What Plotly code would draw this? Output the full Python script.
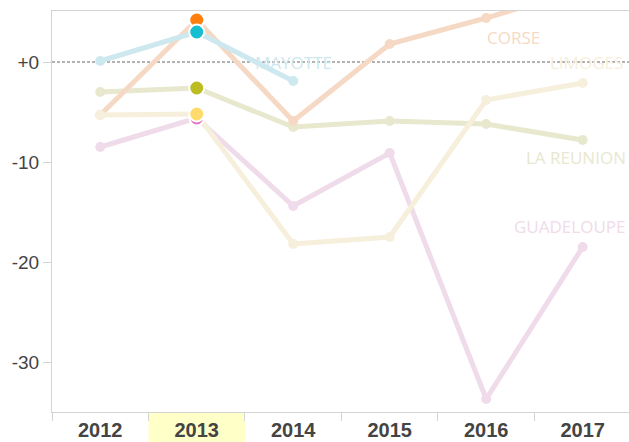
import plotly.graph_objects as go

years = ["2012", "2013", "2014", "2015", "2016", "2017"]
highlight_year = "2013"

series_names = ["GUADELOUPE", "LA REUNION", "CORSE", "LIMOGES", "MAYOTTE"]
guadeloupe = [-8.5, -5.6, -14.4, -9.1, -33.7, -18.5]
la_reunion = [-3.0, -2.6, -6.5, -5.9, -6.2, -7.8]
corse = [-5.3, 4.2, -5.9, 1.8, 4.4, 7.3]
limoges = [-5.3, -5.2, -18.2, -17.5, -3.8, -2.1]
mayotte = [0.1, 3.0, -1.9, None, None, None]

y_ticks = [0, -10, -20, -30]
y_tick_text = ["+0", "-10", "-20", "-30"]

values = {
    "GUADELOUPE": guadeloupe,
    "LA REUNION": la_reunion,
    "CORSE": corse,
    "LIMOGES": limoges,
    "MAYOTTE": mayotte,
}
faded = {
    "GUADELOUPE": "#efdbe9",
    "LA REUNION": "#e8e8cf",
    "CORSE": "#f6d9c4",
    "LIMOGES": "#f6efdc",
    "MAYOTTE": "#cde8ee",
}
strong = {
    "GUADELOUPE": "#e377c2",
    "LA REUNION": "#bcbd22",
    "CORSE": "#ff7f0e",
    "LIMOGES": "#ffdb6e",
    "MAYOTTE": "#17becf",
}

fig = go.Figure()
for name in series_names:
    vals = values[name]
    xs = [y for y, v in zip(years, vals) if v is not None]
    ys = [v for v in vals if v is not None]
    fig.add_trace(go.Scatter(
        x=xs, y=ys, mode="lines+markers",
        line=dict(color=faded[name], width=5),
        marker=dict(color=faded[name], size=10),
        showlegend=False, hoverinfo="skip", cliponaxis=True,
    ))

hi_idx = years.index(highlight_year)
for name in ["GUADELOUPE", "CORSE", "MAYOTTE", "LA REUNION", "LIMOGES"]:
    v = values[name][hi_idx]
    fig.add_trace(go.Scatter(
        x=[highlight_year], y=[v], mode="markers",
        marker=dict(color=strong[name], size=15, line=dict(color="white", width=2)),
        showlegend=False, hoverinfo="skip",
    ))

# series labels placed near the end of each line
def last_point(vals):
    idx = max(i for i, v in enumerate(vals) if v is not None)
    return idx, vals[idx]

label_offsets = {
    "MAYOTTE": (0, 19),
    "LIMOGES": (4, 21),
    "LA REUNION": (-7, -17),
    "GUADELOUPE": (-13, 21),
}
for name, (dx, dy) in label_offsets.items():
    idx, v = last_point(values[name])
    fig.add_annotation(x=idx, y=v, xref="x", yref="y", text=name, showarrow=False,
                       xshift=dx, yshift=dy,
                       font=dict(family="Open Sans", size=17, color=faded[name]))
# CORSE's last point is off the top; its label sits inside the plot
fig.add_annotation(x=4.28, y=2.5, xref="x", yref="y", text="CORSE", showarrow=False,
                   font=dict(family="Open Sans", size=17, color=faded["CORSE"]))

# highlighted year band under the tick label
fig.add_shape(type="rect", xref="x", yref="paper", x0=hi_idx - 0.5, x1=hi_idx + 0.5,
              y0=-0.08, y1=0, fillcolor="#ffffc8", line=dict(width=0), layer="below")
# dashed zero reference line
fig.add_shape(type="line", xref="paper", yref="y", x0=0, x1=1, y0=0, y1=0,
              line=dict(color="#666666", width=1, dash="3px,2px"), layer="below")

fig.update_layout(
    width=629, height=442,
    margin=dict(l=52, r=0, t=11, b=30),
    paper_bgcolor="white", plot_bgcolor="white",
    xaxis=dict(
        type="category", categoryorder="array", categoryarray=years,
        range=[-0.5, 5.48], showgrid=False, zeroline=False,
        showline=True, linecolor="#d4d4d4", linewidth=1, mirror=True,
        ticks="outside", tickson="boundaries", ticklen=8, tickcolor="#d4d4d4",
        tickfont=dict(family="Arial", size=20, color="#444444", weight="bold"),
    ),
    yaxis=dict(
        range=[-35, 5.1], showgrid=False, zeroline=False,
        showline=True, linecolor="#d4d4d4", linewidth=1,
        ticks="outside", ticklen=8, tickcolor="#d4d4d4",
        tickvals=y_ticks, ticktext=y_tick_text,
        tickfont=dict(family="Arial", size=19, color="#444444"),
    ),
)

fig.write_html(
    "out.html",
    config={"displayModeBar": False},
    post_script="document.body.style.margin='0';document.body.style.overflow='hidden';",
)
